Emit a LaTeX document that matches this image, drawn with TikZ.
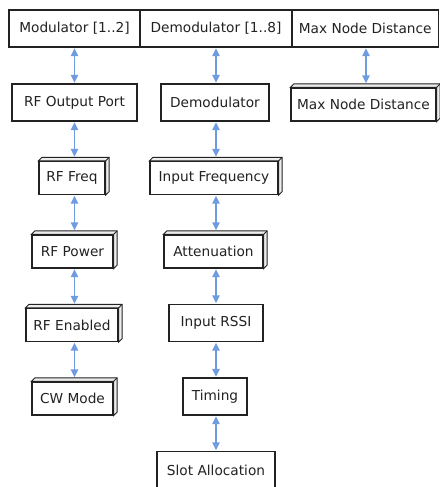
\documentclass[tikz,border=0pt]{standalone}
\usepackage{fontspec}
\setmainfont{DejaVu Sans}
\usetikzlibrary{arrows.meta,calc}

\definecolor{edge}{HTML}{222222}
\definecolor{linkblue}{HTML}{6F9BE0}
\definecolor{slabfill}{HTML}{EDEDED}

\tikzset{
  box/.style={draw=edge, line width=1.2pt, fill=white, inner sep=0pt,
    text=edge, font=\fontsize{13.7}{16}\selectfont},
  plainbox/.style={box, minimum height=37pt},
  raisedbox/.style={box, minimum height=33pt},
  slabpart/.style={draw=edge, line width=0.9pt, fill=slabfill, line join=miter},
  link/.style={draw=linkblue, line width=1.4pt,
    {Triangle[width=7.5pt,length=8pt]}-{Triangle[width=7.5pt,length=8pt]},
    shorten <=0.6pt, shorten >=0.6pt},
}

\begin{document}
\begin{tikzpicture}[x=1pt,y=1pt]
  \useasboundingbox (0,0) rectangle (439,-487);

  % column axes for the connectors
  \coordinate (colA) at (74.5,0);
  \coordinate (colB) at (216,0);
  \coordinate (colC) at (366,0);

  % header row
  \node[plainbox, minimum width=131pt] (hmod)   at (74.5,-28.5) {Modulator [1..2]};
  \node[plainbox, minimum width=152pt] (hdemod) at (216,-28.5)  {Demodulator [1..8]};
  \node[plainbox, minimum width=146.5pt] (hmax)  at (365.25,-28.5) {Max Node Distance};

  % modulator column
  \node[plainbox,  minimum width=125pt] (rfout)   at (74.5,-102.5) {RF Output Port};
  \node[raisedbox, minimum width=66pt]  (rffreq)  at (72,-178)    {RF Freq};
  \node[raisedbox, minimum width=81pt]  (rfpower) at (72.5,-251.5) {RF Power};
  \node[raisedbox, minimum width=92pt]  (rfen)    at (72,-325)    {RF Enabled};
  \node[raisedbox, minimum width=81pt]  (cwmode)  at (72.5,-398.5) {CW Mode};

  % demodulator column
  \node[plainbox,  minimum width=108pt] (demod)   at (215,-102.5) {Demodulator};
  \node[raisedbox, minimum width=128pt] (infreq)  at (214,-178)   {Input Frequency};
  \node[raisedbox, minimum width=99pt]  (atten)   at (213.5,-251.5) {Attenuation};
  \node[plainbox,  minimum width=94pt]  (inrssi)  at (216,-323)   {Input RSSI};
  \node[plainbox,  minimum width=64pt]  (timing)  at (215,-396.5) {Timing};
  \node[plainbox,  minimum width=118pt] (slot)    at (216,-470)   {Slot Allocation};

  % distance column
  \node[raisedbox, minimum width=145pt] (maxnode) at (363.5,-104.5) {Max Node Distance};

  % top and right faces of the raised boxes
  \foreach \n in {rffreq,rfpower,rfen,cwmode,infreq,atten,maxnode}{
    \filldraw[slabpart] (\n.north west) -- ++(3.5,3.5)
      -- ($(\n.north east)+(3.5,3.5)$) -- ($(\n.south east)+(3.5,3.5)$)
      -- (\n.south east) -- (\n.north east) -- cycle;
    \draw[slabpart] (\n.north east) -- ++(3.5,3.5);
  }

  % connectors
  \draw[link] (hmod.south -| colA)   -- (rfout.north -| colA);
  \draw[link] (rfout.south -| colA)  -- ($(rffreq.north -| colA)+(0,3.5)$);
  \draw[link] (rffreq.south -| colA) -- ($(rfpower.north -| colA)+(0,3.5)$);
  \draw[link] (rfpower.south -| colA) -- ($(rfen.north -| colA)+(0,3.5)$);
  \draw[link] (rfen.south -| colA)   -- ($(cwmode.north -| colA)+(0,3.5)$);

  \draw[link] (hdemod.south -| colB) -- (demod.north -| colB);
  \draw[link] (demod.south -| colB)  -- ($(infreq.north -| colB)+(0,3.5)$);
  \draw[link] (infreq.south -| colB) -- ($(atten.north -| colB)+(0,3.5)$);
  \draw[link] (atten.south -| colB)  -- (inrssi.north -| colB);
  \draw[link] (inrssi.south -| colB) -- (timing.north -| colB);
  \draw[link] (timing.south -| colB) -- (slot.north -| colB);

  \draw[link] (hmax.south -| colC)   -- ($(maxnode.north -| colC)+(0,3.5)$);
\end{tikzpicture}
\end{document}
